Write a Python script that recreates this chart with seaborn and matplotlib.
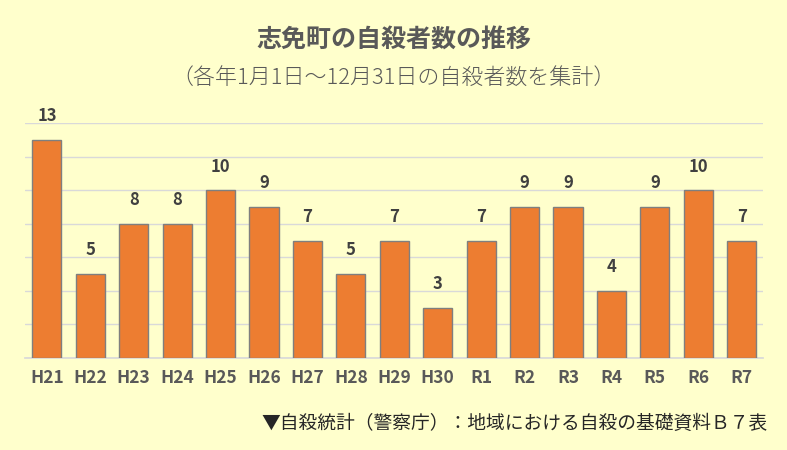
import seaborn as sns
import matplotlib.pyplot as plt
import pandas as pd

# data
years = ['H21', 'H22', 'H23', 'H24', 'H25', 'H26', 'H27', 'H28', 'H29',
         'H30', 'R1', 'R2', 'R3', 'R4', 'R5', 'R6', 'R7']
counts = [13, 5, 8, 8, 10, 9, 7, 5, 7, 3, 7, 9, 9, 4, 9, 10, 7]

title = '志免町の自殺者数の推移'
subtitle = '（各年1月1日～12月31日の自殺者数を集計）'
source = '▼自殺統計（警察庁）：地域における自殺の基礎資料Ｂ７表'

df = pd.DataFrame({'year': years, 'count': counts})

bg = '#FFFFCC'
sns.set_theme(style='white')
plt.rcParams['font.family'] = ['Noto Sans CJK JP', 'DejaVu Sans']

fig = plt.figure(figsize=(7.87, 4.5), dpi=100, facecolor=bg)
ax = fig.add_axes([0.032, 0.2044, 0.938, 0.5223])
ax.set_facecolor(bg)

sns.barplot(data=df, x='year', y='count', color='#ED7D31', saturation=1,
            edgecolor='#7F7F7F', linewidth=1, width=0.67, ax=ax, zorder=3)

ax.set_ylim(0, 14)
ax.set_yticks(range(0, 15, 2))
ax.yaxis.grid(True, color='#D9D9D9', linewidth=1, zorder=0)
ax.set_yticklabels([])
ax.tick_params(axis='y', length=0)
ax.tick_params(axis='x', length=0, pad=8)
for lab in ax.get_xticklabels():
    lab.set_fontweight('bold')
    lab.set_fontsize(12.5)
    lab.set_color('#595959')
ax.set_xlabel('')
ax.set_ylabel('')
for s in ['top', 'right', 'left']:
    ax.spines[s].set_visible(False)
ax.spines['bottom'].set_color('#D9D9D9')
ax.set_xlim(-0.5, len(years) - 0.5)

# value labels above bars
for i, v in enumerate(counts):
    ax.annotate(str(v), (i, v), xytext=(0, 17), textcoords='offset points',
                ha='center', va='center', fontsize=12, fontweight='bold',
                color='#404040')

fig.text(0.5, 0.912, title, ha='center', va='center', fontsize=18,
         fontweight='bold', color='#595959')
fig.text(0.5, 0.825, subtitle, ha='center', va='center', fontsize=15.8,
         fontweight='light', color='#595959')
fig.text(0.976, 0.058, source, ha='right', va='center', fontsize=13.5,
         color='#262626')

fig.savefig('out.png', dpi=100, facecolor=bg)
